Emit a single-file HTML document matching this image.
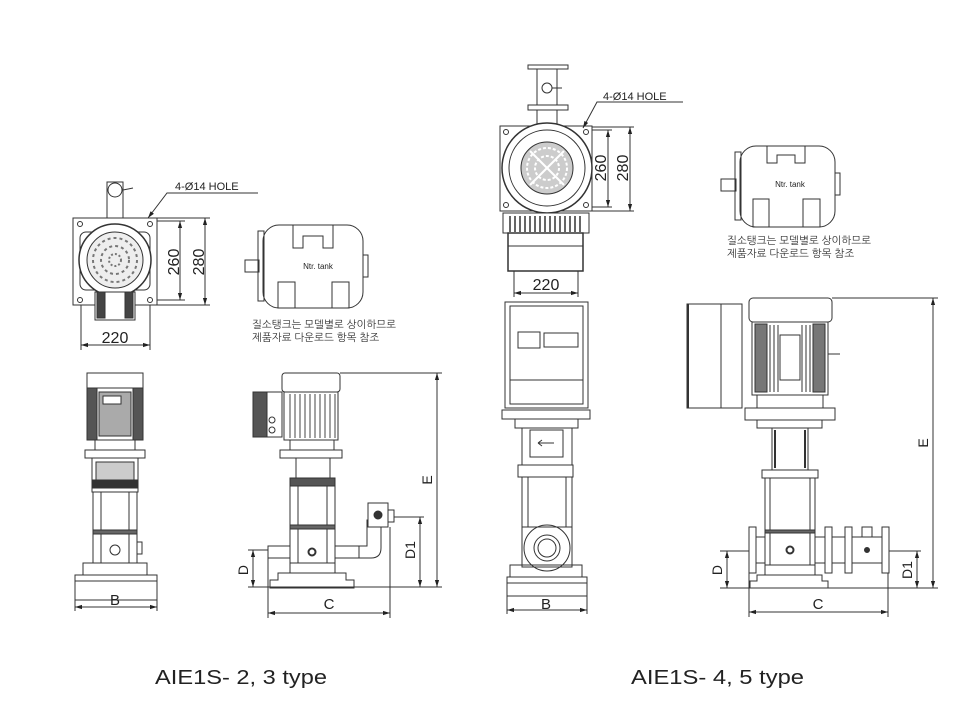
<!DOCTYPE html>
<html><head><meta charset="utf-8"><style>
html,body{margin:0;padding:0;background:#fff;}
svg{display:block;}
text{font-family:"Liberation Sans","Noto Sans CJK KR",sans-serif;fill:#222;}
.k{font-family:"Liberation Sans","NanumGothic","Noto Sans CJK KR",sans-serif;font-size:10.5px;fill:#333;}
</style></head><body>
<svg width="960" height="720" viewBox="0 0 960 720" xmlns="http://www.w3.org/2000/svg">
<defs>
<marker id="a" viewBox="0 0 10 10" refX="10" refY="5" markerWidth="7" markerHeight="7" orient="auto-start-reverse"><path d="M0,2 L10,5 L0,8z" fill="#222"/></marker>
</defs>
<g fill="none" stroke="#333" stroke-width="1">

<!-- ===== LEFT TOP VIEW ===== -->
<rect x="73" y="218" width="84" height="87"/>
<rect x="107" y="182" width="16" height="36" fill="#fff"/>
<circle cx="115" cy="190" r="7"/>
<line x1="123" y1="190" x2="133" y2="188"/>
<rect x="80" y="232" width="70" height="58" rx="6"/>
<circle cx="115" cy="260" r="36" fill="#fff" stroke-width="1.5"/>
<circle cx="115" cy="260" r="28" fill="#eee"/>
<circle cx="115" cy="260" r="22" stroke-dasharray="3 3" stroke-width="2" stroke="#777"/>
<circle cx="115" cy="260" r="14" stroke-dasharray="3 3" stroke-width="2" stroke="#777"/>
<circle cx="115" cy="260" r="6" stroke-dasharray="2 2" stroke-width="2" stroke="#777"/>
<rect x="95" y="292" width="40" height="28" fill="#fff"/>
<rect x="97" y="292" width="8" height="26" fill="#444"/>
<rect x="125" y="292" width="8" height="26" fill="#444"/>
<circle cx="80" cy="224" r="2.5"/><circle cx="150" cy="224" r="2.5"/>
<circle cx="80" cy="300" r="2.5"/><circle cx="150" cy="300" r="2.5"/>
<line x1="81" y1="305" x2="81" y2="350"/><line x1="150" y1="305" x2="150" y2="350"/>
<line x1="81" y1="345" x2="150" y2="345" marker-start="url(#a)" marker-end="url(#a)"/>
<line x1="157" y1="221" x2="185" y2="221"/><line x1="157" y1="300" x2="185" y2="300"/>
<line x1="180" y1="221" x2="180" y2="300" marker-start="url(#a)" marker-end="url(#a)"/>
<line x1="157" y1="218" x2="210" y2="218"/><line x1="157" y1="305" x2="210" y2="305"/>
<line x1="205" y1="218" x2="205" y2="305" marker-start="url(#a)" marker-end="url(#a)"/>
<polyline points="148,218 167,193 258,193" marker-start="url(#a)"/>

<!-- left tank -->
<rect x="263" y="225" width="100" height="83" rx="16"/>
<rect x="258" y="231" width="6" height="70"/>
<rect x="245" y="260" width="14" height="12"/>
<path d="M293,225 v23 h10 v-12 h20 v12 h10 v-23"/>
<rect x="278" y="282" width="17" height="26"/><rect x="332" y="282" width="17" height="26"/>
<rect x="363" y="255" width="5" height="22"/>

<!-- ===== LEFT FRONT VIEW ===== -->
<rect x="87" y="373" width="56" height="67" fill="#fff"/>
<rect x="87" y="388" width="10" height="52" fill="#555"/>
<rect x="133" y="388" width="10" height="52" fill="#555"/>
<rect x="99" y="392" width="32" height="44" fill="#aaa"/>
<rect x="103" y="396" width="18" height="8" fill="#fff"/>
<line x1="87" y1="388" x2="143" y2="388"/>
<rect x="85" y="450" width="60" height="8"/>
<rect x="95" y="440" width="40" height="10"/>
<rect x="92" y="458" width="46" height="34"/>
<rect x="96" y="462" width="38" height="20" fill="#ccc"/>
<rect x="92" y="480" width="46" height="8" fill="#333"/>
<rect x="93" y="492" width="44" height="71"/>
<line x1="101" y1="492" x2="101" y2="563"/><line x1="129" y1="492" x2="129" y2="563"/>
<rect x="93" y="530" width="44" height="4" fill="#666"/>
<circle cx="115" cy="550" r="5"/>
<rect x="137" y="542" width="5" height="12"/>
<rect x="83" y="563" width="64" height="12"/>
<rect x="75" y="575" width="82" height="25" fill="#fff"/>
<line x1="75" y1="581" x2="157" y2="581"/>
<line x1="75" y1="600" x2="75" y2="611"/><line x1="157" y1="600" x2="157" y2="611"/>
<line x1="75" y1="607" x2="157" y2="607" marker-start="url(#a)" marker-end="url(#a)"/>

<!-- ===== LEFT SIDE VIEW ===== -->
<rect x="253" y="392" width="29" height="45" fill="#fff"/>
<rect x="253" y="392" width="14" height="45" fill="#555"/>
<circle cx="272" cy="420" r="3"/><circle cx="272" cy="430" r="3"/>
<rect x="282" y="373" width="58" height="19" rx="3"/>
<rect x="284" y="392" width="54" height="48" fill="#fff"/>
<g stroke="#444">
<line x1="290" y1="394" x2="290" y2="438"/><line x1="295" y1="394" x2="295" y2="438"/><line x1="300" y1="394" x2="300" y2="438"/><line x1="305" y1="394" x2="305" y2="438"/><line x1="310" y1="394" x2="310" y2="438"/><line x1="315" y1="394" x2="315" y2="438"/><line x1="320" y1="394" x2="320" y2="438"/><line x1="325" y1="394" x2="325" y2="438"/><line x1="330" y1="394" x2="330" y2="438"/><line x1="335" y1="394" x2="335" y2="438"/>
</g>
<rect x="280" y="450" width="62" height="8"/>
<rect x="290" y="440" width="44" height="10"/>
<rect x="296" y="458" width="34" height="27"/>
<rect x="290" y="478" width="45" height="8" fill="#555"/>
<rect x="290" y="486" width="45" height="77"/>
<line x1="298" y1="486" x2="298" y2="563"/><line x1="327" y1="486" x2="327" y2="563"/>
<rect x="290" y="525" width="45" height="4" fill="#666"/>
<circle cx="312" cy="552" r="3.5" stroke-width="2"/>
<rect x="268" y="546" width="22" height="12"/>
<rect x="335" y="546" width="24" height="12"/>
<path d="M359,546 h8 v-26 h14 v28 q0,10 -10,10 h-12"/>
<rect x="368" y="503" width="20" height="24" fill="#fff"/>
<circle cx="378" cy="515" r="4" fill="#333"/>
<rect x="388" y="510" width="6" height="12"/>
<rect x="290" y="563" width="45" height="10"/>
<path d="M270,588 v-8 h8 v-7 h68 v7 h8 v8z"/>
<line x1="340" y1="373" x2="442" y2="373"/>
<line x1="437" y1="373" x2="437" y2="587" marker-start="url(#a)" marker-end="url(#a)"/>
<line x1="394" y1="517" x2="424" y2="517"/>
<line x1="420" y1="517" x2="420" y2="587" marker-start="url(#a)" marker-end="url(#a)"/>
<line x1="270" y1="587" x2="442" y2="587"/>
<line x1="248" y1="550" x2="268" y2="550"/>
<line x1="253" y1="550" x2="253" y2="587" marker-start="url(#a)" marker-end="url(#a)"/>
<line x1="248" y1="587" x2="270" y2="587"/>
<line x1="268" y1="558" x2="268" y2="618"/><line x1="390" y1="527" x2="390" y2="618"/>
<line x1="268" y1="613" x2="390" y2="613" marker-start="url(#a)" marker-end="url(#a)"/>

<!-- ===== RIGHT TOP VIEW ===== -->
<rect x="528" y="65" width="40" height="4"/>
<rect x="537" y="69" width="20" height="36"/>
<circle cx="547" cy="88" r="5"/>
<line x1="552" y1="88" x2="562" y2="88"/>
<rect x="528" y="105" width="40" height="5"/>
<rect x="537" y="110" width="20" height="16"/>
<rect x="500" y="126" width="92" height="85" fill="#fff"/>
<circle cx="547" cy="168" r="45" fill="#fff" stroke-width="1.5"/>
<circle cx="547" cy="168" r="38"/>
<circle cx="547" cy="168" r="26" fill="#ccc"/>
<circle cx="547" cy="168" r="20" stroke="#fff" stroke-dasharray="3 2" stroke-width="2"/>
<circle cx="547" cy="168" r="12" stroke="#fff" stroke-dasharray="3 2" stroke-width="2"/>
<line x1="530" y1="151" x2="564" y2="185" stroke="#fff" stroke-width="2"/>
<line x1="564" y1="151" x2="530" y2="185" stroke="#fff" stroke-width="2"/>
<circle cx="506" cy="132" r="2.5"/><circle cx="586" cy="132" r="2.5"/>
<circle cx="506" cy="205" r="2.5"/><circle cx="586" cy="205" r="2.5"/>
<rect x="503" y="213" width="86" height="20" fill="#fff"/>
<g stroke="#333" stroke-width="1.5">
<line x1="510" y1="216" x2="510" y2="232"/><line x1="515" y1="216" x2="515" y2="232"/><line x1="520" y1="216" x2="520" y2="232"/><line x1="525" y1="216" x2="525" y2="232"/><line x1="530" y1="216" x2="530" y2="232"/><line x1="535" y1="216" x2="535" y2="232"/><line x1="540" y1="216" x2="540" y2="232"/><line x1="545" y1="216" x2="545" y2="232"/><line x1="550" y1="216" x2="550" y2="232"/><line x1="555" y1="216" x2="555" y2="232"/><line x1="560" y1="216" x2="560" y2="232"/><line x1="565" y1="216" x2="565" y2="232"/><line x1="570" y1="216" x2="570" y2="232"/><line x1="575" y1="216" x2="575" y2="232"/><line x1="580" y1="216" x2="580" y2="232"/>
</g>
<rect x="508" y="233" width="75" height="38" stroke-width="1.5"/>
<line x1="508" y1="246" x2="583" y2="246"/>
<line x1="514" y1="271" x2="514" y2="297"/><line x1="578" y1="271" x2="578" y2="297"/>
<line x1="514" y1="293" x2="578" y2="293" marker-start="url(#a)" marker-end="url(#a)"/>
<line x1="592" y1="130" x2="612" y2="130"/><line x1="592" y1="207" x2="612" y2="207"/>
<line x1="608" y1="130" x2="608" y2="207" marker-start="url(#a)" marker-end="url(#a)"/>
<line x1="592" y1="127" x2="634" y2="127"/><line x1="592" y1="211" x2="634" y2="211"/>
<line x1="630" y1="127" x2="630" y2="211" marker-start="url(#a)" marker-end="url(#a)"/>
<polyline points="583,128 597,102 683,102" marker-start="url(#a)"/>

<!-- right tank -->
<rect x="740" y="146" width="95" height="81" rx="16"/>
<rect x="735" y="152" width="6" height="68"/>
<rect x="721" y="179" width="15" height="12"/>
<path d="M767,146 v17 h10 v-8 h18 v8 h10 v-17"/>
<rect x="753" y="199" width="16" height="28"/><rect x="803" y="199" width="17" height="28"/>
<rect x="835" y="173" width="5" height="22"/>

<!-- ===== RIGHT FRONT VIEW ===== -->
<rect x="505" y="302" width="83" height="106" fill="#fff"/>
<rect x="510" y="306" width="73" height="98"/>
<rect x="518" y="332" width="22" height="16"/>
<rect x="544" y="333" width="34" height="14"/>
<line x1="510" y1="380" x2="583" y2="380"/>
<rect x="502" y="410" width="88" height="9"/>
<rect x="515" y="419" width="63" height="9"/>
<rect x="522" y="428" width="50" height="40"/>
<rect x="530" y="430" width="33" height="27"/>
<path d="M538,443 h16 M538,443 l4,-3 M538,443 l4,3"/>
<rect x="518" y="465" width="55" height="12" fill="#fff"/>
<rect x="522" y="477" width="50" height="50"/>
<line x1="528" y1="477" x2="528" y2="527"/><line x1="566" y1="477" x2="566" y2="527"/>
<circle cx="547" cy="548" r="23" fill="#fff"/>
<circle cx="547" cy="548" r="13"/><circle cx="547" cy="548" r="9"/>
<rect x="522" y="527" width="50" height="40" fill="none"/>
<rect x="510" y="565" width="72" height="12"/>
<rect x="507" y="577" width="80" height="19"/>
<line x1="507" y1="583" x2="587" y2="583"/>
<line x1="507" y1="596" x2="507" y2="614"/><line x1="587" y1="596" x2="587" y2="614"/>
<line x1="507" y1="610" x2="587" y2="610" marker-start="url(#a)" marker-end="url(#a)"/>

<!-- ===== RIGHT SIDE VIEW ===== -->
<rect x="687" y="304" width="55" height="104" fill="#fff"/>
<line x1="688" y1="304" x2="688" y2="408" stroke-width="2"/>
<line x1="721" y1="304" x2="721" y2="408"/>
<rect x="749" y="298" width="83" height="24" rx="4"/>
<rect x="752" y="322" width="76" height="73" fill="#fff"/>
<rect x="755" y="324" width="12" height="68" fill="#777"/>
<rect x="813" y="324" width="12" height="68" fill="#777"/>
<g stroke="#333">
<line x1="770" y1="325" x2="770" y2="392"/><line x1="774" y1="325" x2="774" y2="392"/><line x1="778" y1="325" x2="778" y2="392"/><line x1="802" y1="325" x2="802" y2="392"/><line x1="806" y1="325" x2="806" y2="392"/><line x1="810" y1="325" x2="810" y2="392"/>
</g>
<rect x="780" y="335" width="20" height="45" fill="#fff"/>
<line x1="828" y1="354" x2="840" y2="354"/>
<rect x="757" y="395" width="66" height="13"/>
<rect x="745" y="408" width="90" height="12"/>
<rect x="757" y="420" width="65" height="8"/>
<rect x="772" y="428" width="36" height="42"/>
<line x1="775" y1="430" x2="775" y2="468" stroke-width="2"/><line x1="805" y1="430" x2="805" y2="468" stroke-width="2"/>
<rect x="762" y="470" width="56" height="8"/>
<rect x="765" y="478" width="50" height="87"/>
<line x1="770" y1="478" x2="770" y2="565"/><line x1="810" y1="478" x2="810" y2="565"/>
<rect x="765" y="530" width="50" height="3" fill="#666"/>
<circle cx="790" cy="550" r="3.5" stroke-width="2"/>
<rect x="749" y="527" width="7" height="46"/>
<rect x="756" y="537" width="9" height="26"/>
<rect x="815" y="537" width="10" height="26"/>
<rect x="825" y="527" width="7" height="46"/>
<rect x="832" y="537" width="13" height="26"/>
<rect x="845" y="527" width="7" height="46"/>
<rect x="852" y="537" width="30" height="26"/>
<rect x="862" y="527" width="10" height="10"/>
<circle cx="867" cy="550" r="2.5" fill="#333"/>
<rect x="882" y="527" width="7" height="46"/>
<rect x="765" y="565" width="50" height="10"/>
<path d="M750,588 v-7 h7 v-6 h65 v6 h6 v7z"/>
<line x1="832" y1="298" x2="938" y2="298"/>
<line x1="933" y1="298" x2="933" y2="588" marker-start="url(#a)" marker-end="url(#a)"/>
<line x1="889" y1="551" x2="921" y2="551"/>
<line x1="917" y1="551" x2="917" y2="588" marker-start="url(#a)" marker-end="url(#a)"/>
<line x1="720" y1="551" x2="749" y2="551"/>
<line x1="727" y1="551" x2="727" y2="588" marker-start="url(#a)" marker-end="url(#a)"/>
<line x1="720" y1="588" x2="938" y2="588"/>
<line x1="749" y1="573" x2="749" y2="617"/><line x1="888" y1="573" x2="888" y2="617"/>
<line x1="749" y1="612" x2="888" y2="612" marker-start="url(#a)" marker-end="url(#a)"/>
</g>

<!-- ===== TEXT ===== -->
<text x="175" y="190" font-size="11">4-Ø14 HOLE</text>
<text x="115" y="343" font-size="16" text-anchor="middle">220</text>
<text transform="translate(179,262) rotate(-90)" font-size="16" text-anchor="middle">260</text>
<text transform="translate(204,262) rotate(-90)" font-size="16" text-anchor="middle">280</text>
<text x="318" y="269" font-size="8" text-anchor="middle">Ntr. tank</text>
<text class="k" x="252" y="328">질소탱크는 모델별로 상이하므로</text>
<text class="k" x="252" y="341">제품자료 다운로드 항목 참조</text>
<text x="115" y="605" font-size="15" text-anchor="middle">B</text>
<text transform="translate(432,480) rotate(-90)" font-size="14" text-anchor="middle">E</text>
<text transform="translate(415,550) rotate(-90)" font-size="14" text-anchor="middle">D1</text>
<text transform="translate(248,570) rotate(-90)" font-size="14" text-anchor="middle">D</text>
<text x="329" y="609" font-size="15" text-anchor="middle">C</text>

<text x="603" y="100" font-size="11">4-Ø14 HOLE</text>
<text x="546" y="290" font-size="16" text-anchor="middle">220</text>
<text transform="translate(606,168) rotate(-90)" font-size="16" text-anchor="middle">260</text>
<text transform="translate(628,168) rotate(-90)" font-size="16" text-anchor="middle">280</text>
<text x="790" y="187" font-size="8" text-anchor="middle">Ntr. tank</text>
<text class="k" x="727" y="244">질소탱크는 모델별로 상이하므로</text>
<text class="k" x="727" y="257">제품자료 다운로드 항목 참조</text>
<text x="546" y="609" font-size="15" text-anchor="middle">B</text>
<text transform="translate(928,443) rotate(-90)" font-size="14" text-anchor="middle">E</text>
<text transform="translate(912,570) rotate(-90)" font-size="14" text-anchor="middle">D1</text>
<text transform="translate(722,570) rotate(-90)" font-size="14" text-anchor="middle">D</text>
<text x="818" y="609" font-size="15" text-anchor="middle">C</text>

<text x="155" y="684" font-size="20" textLength="172" lengthAdjust="spacingAndGlyphs">AIE1S- 2, 3 type</text>
<text x="631" y="684" font-size="20" textLength="173" lengthAdjust="spacingAndGlyphs">AIE1S- 4, 5 type</text>
</svg>
</body></html>
